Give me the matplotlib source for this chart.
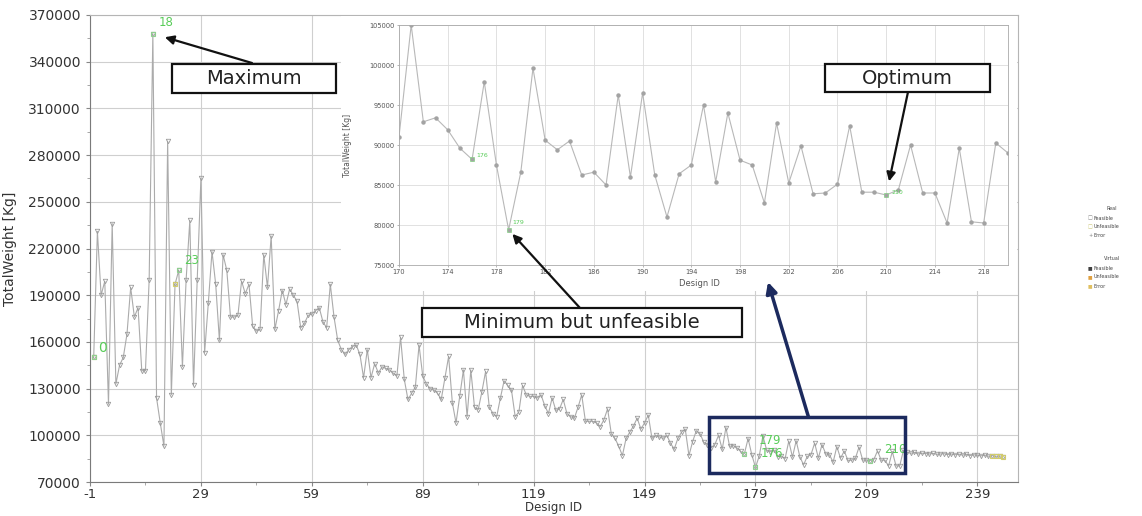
"""
Design history of TotalWeight with a zoomed inset of the last designs.
"""

import numpy as np
import matplotlib
matplotlib.use('Agg')
import matplotlib.pyplot as plt
from matplotlib.patches import Rectangle

W, H = 1142, 516

# TotalWeight [Kg] for design IDs 0..246
total_weight = [
    150000, 231000, 190000, 199000, 120000, 236000, 133000, 145000, 150000, 165000,
    195000, 176000, 182000, 141500, 141500, 200000, 358000, 124000, 108000, 93000,
    289000, 126000, 197000, 206000, 144000, 200000, 238000, 132000, 200000, 265000,
    153000, 185000, 218000, 197000, 161000, 216000, 206000, 176000, 176000, 177000,
    199000, 191000, 197000, 170000, 167000, 168000, 216000, 195000, 228000, 168000,
    180000, 193000, 184000, 194000, 190000, 186000, 169000, 172000, 177000, 178000,
    180000, 182000, 173000, 169000, 197000, 176000, 161000, 155000, 152000, 155000,
    157000, 158000, 152000, 137000, 155000, 137000, 146000, 140000, 144000, 143000,
    142000, 140000, 138000, 163000, 136000, 123000, 127000, 131000, 158000, 138000,
    133000, 130000, 129000, 127000, 123000, 137000, 150700, 121000, 108000, 125000,
    142000, 112000, 142000, 118000, 116500, 128000, 141000, 118000, 114000, 112000,
    124000, 135000, 132000, 129000, 112000, 115000, 132000, 126000, 125000, 125000,
    124000, 126000, 119000, 114000, 124000, 116000, 117000, 123000, 114000, 112000,
    111000, 118000, 126000, 109000, 109000, 109000, 108000, 105500, 110000, 117000,
    101000, 98000, 93000, 87000, 98000, 102000, 106000, 111000, 104000, 108000,
    113000, 98000, 100000, 99000, 98000, 100000, 95000, 91000, 98000, 102000,
    104000, 87000, 96000, 103000, 101000, 95600, 94000, 92000, 94000, 100000,
    91000, 105000, 92900, 93400, 91900, 89600, 88200, 97900, 87500, 79400,
    86600, 99600, 90600, 89400, 90500, 86250, 86600, 85000, 96250, 86000,
    96500, 86250, 81000, 86400, 87500, 95000, 85400, 94000, 88100, 87500,
    82750, 92750, 85250, 89900, 83900, 84000, 85100, 92400, 84100, 84100,
    83750, 84400, 90000, 84000, 84000, 80250, 89600, 80400, 80250, 90250,
    89000, 88500, 89000, 88000, 88500, 88300, 88000, 88400, 87800, 88000,
    88200, 87600, 88000, 87500, 87900, 87300, 87800, 87000, 87500, 87200,
    86800, 87300, 86600, 87000, 86500, 86800, 86300,
]
design_id = np.arange(len(total_weight))
total_weight = np.array(total_weight)

# labelled designs: index in the series -> text shown
main_label_ids = [0, 16, 23, 176, 179, 210]
main_label_txt = ['0', '18', '23', '176', '179', '210']
inset_label_ids = [176, 179, 210]
unfeasible_ids = [0, 22, 243, 244, 245, 246]

x_ticks = list(range(-1, 240, 30))
y_ticks = list(range(70000, 370001, 30000))
inset_x_ticks = list(range(170, 219, 4))
inset_y_ticks = list(range(75000, 105001, 5000))

GREEN = '#58cc58'
NAVY = '#1c2a5e'


def fig_box(x0, y0, x1, y1):
    """pixel box (top-left origin) -> figure fraction rect"""
    return [x0 / W, 1 - y1 / H, (x1 - x0) / W, (y1 - y0) / H]


fig = plt.figure(figsize=(W / 100, H / 100), dpi=100)

# ---- main chart
ax = fig.add_axes(fig_box(90, 15, 1018, 482))
ax.plot(design_id, total_weight, color='#ababab', lw=0.8, zorder=2)
ax.plot(design_id, total_weight, ls='none', marker='v', ms=3.2, mfc='none',
        mec='#9a9a9a', mew=0.6, zorder=3)
ax.plot(design_id[unfeasible_ids], total_weight[unfeasible_ids], ls='none',
        marker='s', ms=3, mfc='none', mec='#d2cc6c', mew=0.8, zorder=4)
ax.plot(design_id[main_label_ids], total_weight[main_label_ids], ls='none',
        marker='s', ms=3, mfc='none', mec='#8fd08f', mew=0.8, zorder=4)

ax.set_xlim(-1, 250)
ax.set_ylim(70000, 370000)
ax.set_xticks(x_ticks)
ax.set_xticklabels([str(v) for v in x_ticks])
ax.set_yticks(y_ticks)
ax.set_yticklabels([str(v) for v in y_ticks])
ax.set_xticks(range(14, 250, 30), minor=True)
ax.set_yticks(range(85000, 370000, 30000), minor=True)
ax.tick_params(which='major', length=3, color='#888888', labelsize=10,
               labelcolor='#333333')
ax.tick_params(axis='x', which='major', pad=1, labelsize=9.5)
ax.tick_params(which='minor', length=2, color='#999999')
ax.grid(True, which='major', color='#cfcfcf', lw=0.8)
ax.set_axisbelow(True)
for side in ['left', 'bottom']:
    ax.spines[side].set_color('#7a7a7a')
for side in ['top', 'right']:
    ax.spines[side].set_color('#b5b5b5')
ax.set_xlabel('Design ID', fontsize=8.5, color='#333333')
ax.xaxis.set_label_coords(0.5, -0.0405)
ax.set_ylabel('TotalWeight [Kg]', fontsize=10, color='#333333')
ax.yaxis.set_label_coords(-0.079, 0.5)

# green design labels on the main chart (offsets in points)
main_offsets = [(3, 7), (4, 8), (4, 7), (12, 0), (2, 19), (10, 8)]
main_sizes = [10, 8.5, 8.5, 8.5, 8.5, 8.5]
for i, txt, off, fs in zip(main_label_ids, main_label_txt, main_offsets,
                           main_sizes):
    ax.annotate(txt, xy=(design_id[i], total_weight[i]), xytext=off,
                textcoords='offset points', ha='left', va='center',
                fontsize=fs, color=GREEN, zorder=6)

# navy frame round the zoomed region
ax.add_patch(Rectangle((166.5, 76000), 53, 36000, fill=False, ec=NAVY,
                       lw=2.5, zorder=6))

# ---- white panel behind the inset
bg = fig.add_axes(fig_box(341, 16, 1017, 291))
bg.set_facecolor('white')
bg.set_xticks([])
bg.set_yticks([])
for s in bg.spines.values():
    s.set_visible(False)

# ---- inset
ins = fig.add_axes(fig_box(399, 25, 1008, 265))
ins.plot(design_id, total_weight, color='#b8b8b8', lw=0.8, marker='o', ms=2.2,
         mfc='#a3a3a3', mec='#a3a3a3', zorder=2)
ins.plot(design_id[inset_label_ids], total_weight[inset_label_ids], ls='none',
         marker='s', ms=2.2, mfc='none', mec='#8fd08f', mew=0.6, zorder=3)
ins.set_xlim(170, 220)
ins.set_ylim(75000, 105000)
ins.set_xticks(inset_x_ticks)
ins.set_xticklabels([str(v) for v in inset_x_ticks])
ins.set_yticks(inset_y_ticks)
ins.set_yticklabels([str(v) for v in inset_y_ticks])
ins.tick_params(length=1.5, width=0.5, color='#999999', labelsize=4.8,
                labelcolor='#555555', pad=1.5)
ins.grid(True, color='#dcdcdc', lw=0.6)
ins.set_axisbelow(True)
for s in ins.spines.values():
    s.set_color('#aaaaaa')
    s.set_linewidth(0.6)
ins.set_xlabel('Design ID', fontsize=6, color='#555555')
ins.xaxis.set_label_coords(0.494, -0.058)
ins.set_ylabel('TotalWeight [Kg]', fontsize=5.5, color='#555555')
ins.yaxis.set_label_coords(-0.077, 0.5)

inset_offsets = [(3, 3), (3, 5), (4, 2)]
for i, off in zip(inset_label_ids, inset_offsets):
    ins.annotate(str(i), xy=(design_id[i], total_weight[i]), xytext=off,
                 textcoords='offset points', ha='left', va='center',
                 fontsize=4.5, color=GREEN)

# ---- callout boxes
def callout(x0, y0, x1, y1, text):
    fig.add_artist(Rectangle((x0 / W, 1 - y1 / H), (x1 - x0) / W, (y1 - y0) / H,
                             transform=fig.transFigure, fc='white', ec='#111111',
                             lw=1.6, zorder=10))
    fig.text((x0 + x1) / 2 / W, 1 - (y0 + y1) / 2 / H, text, ha='center',
             va='center', fontsize=14, color='#222222', zorder=11)


callout(172, 64, 336, 93, 'Maximum')
callout(825, 64, 990, 92, 'Optimum')
callout(422, 308, 742, 337, 'Minimum but unfeasible')

arrow = dict(arrowstyle='-|>', color='#111111', lw=1.6, mutation_scale=13,
             shrinkA=0)
ax.annotate('', xy=(16, 358000), xytext=(252, H - 63),
            textcoords='figure pixels',
            arrowprops=dict(arrow, shrinkB=9), zorder=7)
ins.annotate('', xy=(210, 83750), xytext=(908, H - 92),
             textcoords='figure pixels',
             arrowprops=dict(arrow, shrinkB=10), zorder=7)
ins.annotate('', xy=(179, 79400), xytext=(580, H - 308),
             textcoords='figure pixels',
             arrowprops=dict(arrow, shrinkB=4), zorder=7)
ins.annotate('', xy=(768, H - 282), xycoords='figure pixels',
             xytext=(193.3, 112000), textcoords=ax.transData,
             arrowprops=dict(arrowstyle='-|>', color=NAVY, lw=2.5,
                             mutation_scale=16, shrinkA=0, shrinkB=0),
             zorder=7)

# ---- tiny legend at the right
legend_rows = [
    (209, None, None, 'Real'),
    (218, '\u25a1', '#808080', 'Feasible'),
    (227, '\u25a1', '#c8c470', 'Unfeasible'),
    (236, '+', '#808080', 'Error'),
    (259, None, None, 'Virtual'),
    (268, '\u25a0', '#404040', 'Feasible'),
    (277, '\u25a0', '#e0a040', 'Unfeasible'),
    (286, '\u25a0', '#e0c060', 'Error'),
]
for y, sym, col, txt in legend_rows:
    if sym is None:
        fig.text(1112 / W, 1 - y / H, txt, ha='center', va='center',
                 fontsize=3.5, color='#444444')
    else:
        fig.text(1088 / W, 1 - y / H, sym, ha='left', va='center',
                 fontsize=3.5, color=col)
        fig.text(1094 / W, 1 - y / H, txt, ha='left', va='center',
                 fontsize=3.5, color='#444444')

fig.savefig('out.png', dpi=100)
